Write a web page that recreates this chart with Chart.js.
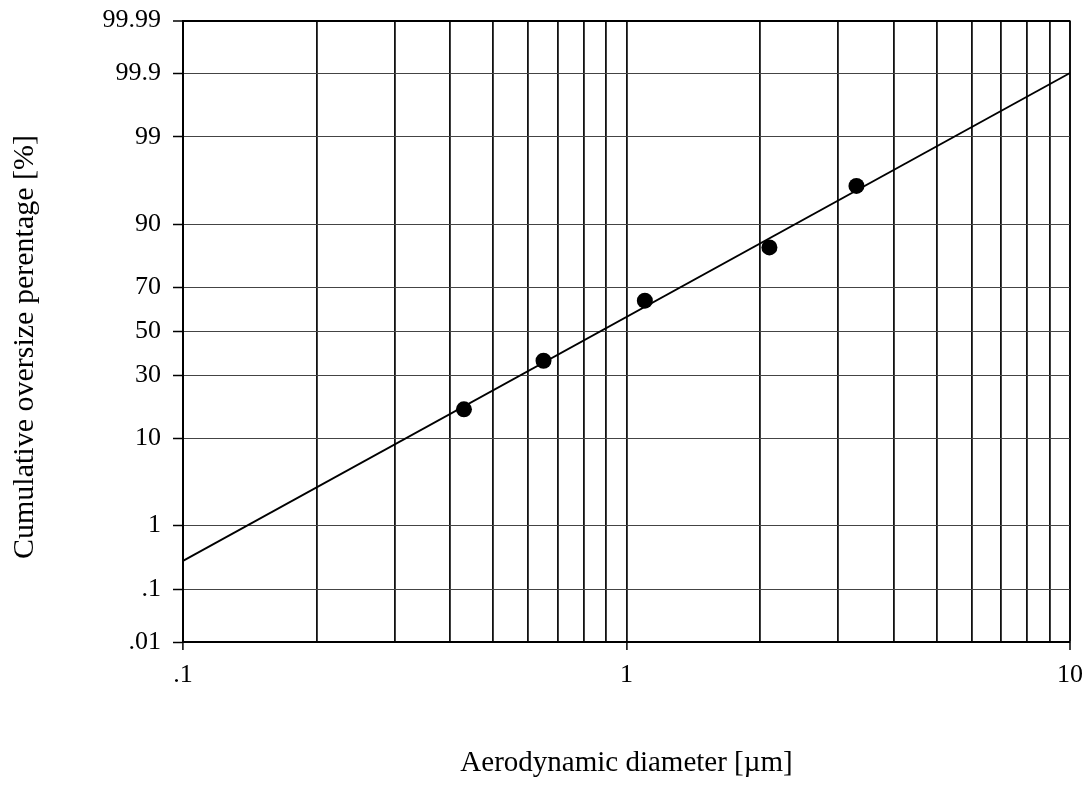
<!DOCTYPE html>
<html>
<head>
<meta charset="utf-8">
<script src="https://cdn.jsdelivr.net/npm/chart.js@4/dist/chart.umd.min.js"></script>
<style>
  html, body { margin: 0; padding: 0; background: #fff; }
  canvas { display: block; }
</style>
</head>
<body>
<canvas id="chart" width="1088" height="785"></canvas>
<script>
// Impactor stage cut-off diameters (µm) and cumulative oversize (%)
const stageDiameters = [0.43, 0.65, 1.1, 2.1, 3.3];
const cumulativeOversize = [17.5, 36.2, 64.3, 84.2, 95.9];

// Fitted log-normal line, evaluated at both ends of the diameter axis
const fitDiameters = [0.1, 10];
const fitOversize = [0.30, 99.90];

// Axis ticks
const xGridValues = [0.1, 0.2, 0.3, 0.4, 0.5, 0.6, 0.7, 0.8, 0.9, 1, 2, 3, 4, 5, 6, 7, 8, 9, 10];
const xLabelValues = [0.1, 1, 10];
const xLabelTexts = ['.1', '1', '10'];
const yTickValues = [0.01, 0.1, 1, 10, 30, 50, 70, 90, 99, 99.9, 99.99];
const yTickLabels = ['.01', '.1', '1', '10', '30', '50', '70', '90', '99', '99.9', '99.99'];

const xTitle = 'Aerodynamic diameter [\u00b5m]';
const yTitle = 'Cumulative oversize perentage [%]';

// Inverse standard normal CDF (Acklam's rational approximation)
function probit(p) {
  const a = [-3.969683028665376e+01, 2.209460984245205e+02, -2.759285104469687e+02,
             1.383577518672690e+02, -3.066479806614716e+01, 2.506628277459239e+00];
  const b = [-5.447609879822406e+01, 1.615858368580409e+02, -1.556989798598866e+02,
             6.680131188771972e+01, -1.328068155288572e+01];
  const c = [-7.784894002430293e-03, -3.223964580411365e-01, -2.400758277161838e+00,
             -2.549732539343734e+00, 4.374664141464968e+00, 2.938163982698783e+00];
  const d = [7.784695709041462e-03, 3.224671290700398e-01, 2.445134137142996e+00,
             3.754408661907416e+00];
  const pl = 0.02425, ph = 1 - pl;
  let q, r;
  if (p < pl) {
    q = Math.sqrt(-2 * Math.log(p));
    return (((((c[0]*q + c[1])*q + c[2])*q + c[3])*q + c[4])*q + c[5]) /
           ((((d[0]*q + d[1])*q + d[2])*q + d[3])*q + 1);
  }
  if (p > ph) {
    q = Math.sqrt(-2 * Math.log(1 - p));
    return -(((((c[0]*q + c[1])*q + c[2])*q + c[3])*q + c[4])*q + c[5]) /
            ((((d[0]*q + d[1])*q + d[2])*q + d[3])*q + 1);
  }
  q = p - 0.5; r = q * q;
  return (((((a[0]*r + a[1])*r + a[2])*r + a[3])*r + a[4])*r + a[5]) * q /
         (((((b[0]*r + b[1])*r + b[2])*r + b[3])*r + b[4])*r + 1);
}

// Standard normal CDF (Abramowitz-Stegun 7.1.26)
function normCdf(z) {
  const t = 1 / (1 + 0.3275911 * Math.abs(z) / Math.SQRT2);
  const y = 1 - (((((1.061405429 * t - 1.453152027) * t) + 1.421413741) * t - 0.284496736) * t + 0.254829592) * t *
            Math.exp(-z * z / 2);
  return z >= 0 ? (1 + y) / 2 : (1 - y) / 2;
}

// Probability (normal-quantile) axis for percentages
class ProbitScale extends Chart.LinearScale {
  static id = 'probit';
  static defaults = Chart.LinearScale.defaults;
  buildTicks() {
    return yTickValues.map(v => ({ value: v }));
  }
  configure() {
    super.configure();
    this._zStart = probit(this.min / 100);
    this._zRange = probit(this.max / 100) - this._zStart;
  }
  getPixelForValue(value) {
    if (value === null || value === undefined) return NaN;
    return this.getPixelForDecimal((probit(value / 100) - this._zStart) / this._zRange);
  }
  getValueForPixel(pixel) {
    return 100 * normCdf(this._zStart + this.getDecimalForPixel(pixel) * this._zRange);
  }
}
Chart.register(ProbitScale);

const serif = "'Liberation Serif', 'Times New Roman', serif";

// Rotated y-axis title, drawn beside the axis
const yTitlePlugin = {
  id: 'yTitle',
  afterDraw(chart) {
    const ctx = chart.ctx;
    ctx.save();
    ctx.translate(25, 347);
    ctx.rotate(-Math.PI / 2);
    ctx.font = "30px " + serif;
    ctx.fillStyle = '#000';
    ctx.textAlign = 'center';
    ctx.textBaseline = 'middle';
    ctx.fillText(yTitle, 0, 0);
    ctx.restore();
  }
};

const isLabeled = v => xLabelValues.some(t => Math.abs(t - v) < 1e-9);

new Chart(document.getElementById('chart'), {
  type: 'scatter',
  data: {
    datasets: [
      {
        data: fitDiameters.map((x, i) => ({ x, y: fitOversize[i] })),
        showLine: true,
        borderColor: '#000',
        borderWidth: 1.8,
        pointRadius: 0,
        order: 2
      },
      {
        data: stageDiameters.map((x, i) => ({ x, y: cumulativeOversize[i] })),
        pointRadius: 8,
        pointBackgroundColor: '#000',
        pointBorderColor: '#000',
        pointBorderWidth: 0,
        order: 1
      }
    ]
  },
  options: {
    responsive: false,
    animation: false,
    devicePixelRatio: 1,
    layout: { padding: { top: 20.5, right: 18, left: 0, bottom: 0 } },
    plugins: { legend: { display: false }, tooltip: { enabled: false } },
    scales: {
      x: {
        type: 'logarithmic',
        min: 0.1,
        max: 10,
        afterBuildTicks: s => { s.ticks = xGridValues.map(v => ({ value: v })); },
        afterFit: s => { s.height = 143; s.paddingLeft = 0; s.paddingRight = 0; },
        ticks: {
          autoSkip: false,
          maxRotation: 0,
          padding: 10,
          color: '#000',
          font: { family: serif, size: 26 },
          callback: v => {
            const i = xLabelValues.findIndex(t => Math.abs(t - v) < 1e-9);
            return i < 0 ? '' : xLabelTexts[i];
          }
        },
        grid: {
          color: '#111',
          lineWidth: c => (c.tick && c.tick.value === 10) ? 2 : 1.8,
          tickLength: 8,
          tickWidth: 1.5,
          tickColor: c => (c.tick && isLabeled(c.tick.value)) ? '#000' : 'rgba(0,0,0,0)'
        },
        border: { color: '#000', width: 2 },
        title: {
          display: true,
          text: xTitle,
          color: '#000',
          font: { family: serif, size: 29 },
          padding: { top: 0, bottom: 4 }
        }
      },
      y: {
        type: 'probit',
        min: 0.01,
        max: 99.99,
        afterFit: s => { s.width = 183; s.paddingTop = 0; s.paddingBottom = 0; },
        ticks: {
          autoSkip: false,
          padding: 12,
          color: '#000',
          font: { family: serif, size: 26 },
          callback: (v, i) => yTickLabels[i]
        },
        grid: {
          color: c => (c.tick && c.tick.value === 99.99) ? '#000' : '#444',
          lineWidth: c => (c.tick && c.tick.value === 99.99) ? 2 : 1,
          tickLength: 10,
          tickWidth: 1.5,
          tickColor: '#000'
        },
        border: { color: '#000', width: 2 }
      }
    }
  },
  plugins: [yTitlePlugin]
});
</script>
</body>
</html>
